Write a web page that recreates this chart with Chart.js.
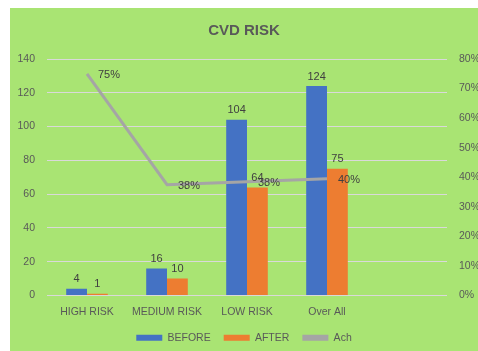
<!DOCTYPE html>
<html>
<head>
<meta charset="utf-8">
<script src="https://cdn.jsdelivr.net/npm/chart.js@4"></script>
<style>
html,body{margin:0;padding:0;background:#ffffff;}
#wrap{width:478px;height:351px;position:relative;}
</style>
</head>
<body>
<div id="wrap"><canvas id="c"></canvas></div>
<script>
const categories = ["HIGH RISK", "MEDIUM RISK", "LOW RISK", "Over All", ""];
const beforeValues = [4, 16, 104, 124, null];
const afterValues = [1, 10, 64, 75, null];
const achValues = [0.75, 0.375, 0.385, 0.395, null];
const achLabels = ["75%", "38%", "38%", "40%"];
const leftTicks = [0, 20, 40, 60, 80, 100, 120, 140];
const rightTicks = [0, 0.1, 0.2, 0.3, 0.4, 0.5, 0.6, 0.7, 0.8];

const FONT = "'Liberation Sans', Arial, sans-serif";
const TXT = '#595959';

const bgPlugin = {
  id: 'bg',
  beforeDraw(chart) {
    const ctx = chart.ctx;
    ctx.save();
    ctx.fillStyle = '#A9E473';
    ctx.fillRect(10, 8, chart.width - 10, chart.height - 8);
    ctx.restore();
  }
};

const labelPlugin = {
  id: 'vlabels',
  afterDatasetsDraw(chart) {
    const ctx = chart.ctx;
    ctx.save();
    ctx.font = '11px ' + FONT;
    ctx.fillStyle = '#404040';
    [0, 1].forEach(di => {
      const meta = chart.getDatasetMeta(di);
      const data = chart.data.datasets[di].data;
      meta.data.forEach((el, i) => {
        if (data[i] == null) return;
        ctx.textAlign = 'center';
        ctx.textBaseline = 'bottom';
        ctx.fillText(String(data[i]), el.x, el.y - 4);
      });
    });
    const lm = chart.getDatasetMeta(2);
    lm.data.forEach((el, i) => {
      if (achLabels[i] == null) return;
      ctx.textAlign = 'left';
      ctx.textBaseline = 'middle';
      ctx.fillText(achLabels[i], el.x + 11, el.y + 1);
    });
    ctx.restore();
  }
};

new Chart(document.getElementById('c'), {
  type: 'bar',
  data: {
    labels: categories,
    datasets: [
      { label: 'BEFORE', data: beforeValues, backgroundColor: '#4472C4', yAxisID: 'y', categoryPercentage: 0.52, barPercentage: 1.0 },
      { label: 'AFTER', data: afterValues, backgroundColor: '#ED7D31', yAxisID: 'y', categoryPercentage: 0.52, barPercentage: 1.0 },
      { label: 'Ach', type: 'line', data: achValues, borderColor: '#A5A5A5', backgroundColor: '#A5A5A5', borderWidth: 3, pointRadius: 0, yAxisID: 'y1', order: -1, tension: 0 }
    ]
  },
  options: {
    responsive: true,
    maintainAspectRatio: false,
    animation: false,
    layout: { padding: { left: 10, right: 0, top: 0, bottom: -2 } },
    plugins: {
      title: {
        display: true, text: 'CVD RISK', color: TXT,
        font: { family: FONT, size: 15, weight: 'bold' },
        padding: { top: 22, bottom: 19 }
      },
      legend: {
        position: 'bottom',
        labels: {
          color: TXT, font: { family: FONT, size: 10.5 },
          boxWidth: 26, boxHeight: 6, padding: 13,
          sort: (a, b) => a.datasetIndex - b.datasetIndex,
          generateLabels(chart) {
            const items = Chart.defaults.plugins.legend.labels.generateLabels(chart);
            items.forEach(it => { it.lineWidth = 0; });
            return items;
          }
        }
      },
      tooltip: { enabled: false }
    },
    scales: {
      x: {
        grid: { display: false, drawTicks: false },
        border: { display: false },
        ticks: { color: TXT, font: { family: FONT, size: 10.5 }, padding: 10, maxRotation: 0, autoSkip: false },
        afterFit(s) { s.height = 24; }
      },
      y: {
        position: 'left', min: 0, max: 140,
        afterBuildTicks(s) { s.ticks = leftTicks.map(v => ({ value: v })); },
        grid: { color: '#D9D9D9', lineWidth: 1, drawTicks: false },
        border: { display: false },
        ticks: { color: TXT, font: { family: FONT, size: 10.5 }, padding: 12 },
        afterFit(s) { s.width = 37; }
      },
      y1: {
        position: 'right', min: 0, max: 0.8,
        afterBuildTicks(s) { s.ticks = rightTicks.map(v => ({ value: v })); },
        grid: { display: false, drawTicks: false },
        border: { display: false },
        ticks: { color: TXT, font: { family: FONT, size: 10.5 }, padding: 12,
          callback: v => Math.round(v * 100) + '%' },
        afterFit(s) { s.width = 31; }
      }
    }
  },
  plugins: [bgPlugin, labelPlugin]
});
</script>
</body>
</html>
